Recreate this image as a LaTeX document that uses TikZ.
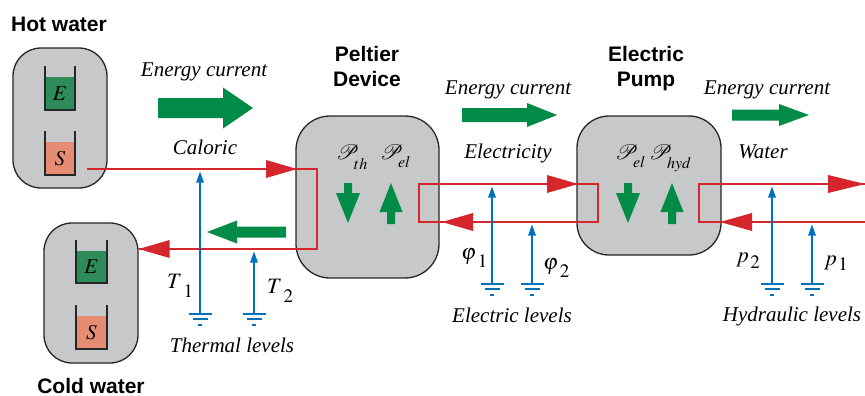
\documentclass[tikz,border=0pt]{standalone}
\usepackage{mathptmx}
\usepackage{fontspec}
\setmainfont{Liberation Serif}
\newfontfamily\hv{Liberation Sans}
\usetikzlibrary{arrows.meta}
\definecolor{gbox}{RGB}{199,200,202}
\definecolor{garr}{RGB}{0,140,70}
\definecolor{tankE}{RGB}{45,140,90}
\definecolor{tankS}{RGB}{230,140,115}
\definecolor{rline}{RGB}{214,38,45}
\definecolor{bline}{RGB}{0,114,188}
\newcommand\hblockarrow[6]{\fill[garr] (#1,{#4-#5}) -- (#2,{#4-#5}) -- (#2,{#4-#6}) -- (#3,#4) -- (#2,{#4+#6}) -- (#2,{#4+#5}) -- (#1,{#4+#5}) -- cycle;}
\newcommand\vblockarrow[6]{\fill[garr] ({#4-#5},#1) -- ({#4-#5},#2) -- ({#4-#6},#2) -- (#4,#3) -- ({#4+#6},#2) -- ({#4+#5},#2) -- ({#4+#5},#1) -- cycle;}
\newcommand\msub[3]{$#1$\kern1.5pt\raisebox{-#3pt}{\fontsize{19}{19}\selectfont$#2$}}
\newcommand\psub[2]{{\fontsize{21}{24}\selectfont$\mathcal{P}$}\kern-5pt\raisebox{-#2pt}{\fontsize{16}{16}\selectfont$#1$}}
\begin{document}
\begin{tikzpicture}[x=1pt,y=-1pt,
  box/.style={draw=black!85, line width=1.3pt, fill=gbox, rounded corners=28pt, inner sep=0},
  title/.style={font=\hv\bfseries\fontsize{21}{24}\selectfont, inner sep=0, anchor=base},
  lab/.style={font=\itshape\fontsize{21}{24}\selectfont, inner sep=0, anchor=base},
  mlab/.style={font=\fontsize{22}{26}\selectfont, inner sep=0, anchor=base west},
  tanklab/.style={font=\fontsize{21}{24}\selectfont, inner sep=0},
  redline/.style={draw=rline, line width=2.7pt, line join=miter},
  blueline/.style={draw=bline, line width=1.4pt},
  bluearrow/.style={blueline, -{Triangle[length=11pt,width=7.5pt]}},
  tank/.style={draw=black!85, line width=1.3pt},
  gnd/.pic={\draw[blueline] (-11.5,0) -- (11.5,0) (-7.5,5) -- (7.5,5) (-1.8,11) -- (1.8,11);}
]
\useasboundingbox (0,0) rectangle (865,396);

% boxes
\node[box, minimum width=94pt, minimum height=140pt] (hot) at (60,118) {};
\node[box, minimum width=94pt, minimum height=140pt] (cold) at (91,293) {};
\node[box, minimum width=143pt, minimum height=162pt, rounded corners=34pt] (pelt) at (367.5,197) {};
\node[box, minimum width=144pt, minimum height=139pt, rounded corners=32pt] (pump) at (649,185.5) {};

% tanks
\fill[tankE] (45,77) rectangle (75,110);
\draw[tank] (45,66) -- (45,110) -- (75,110) -- (75,66);
\node[tanklab] (hotE) at (60,93.5) {$E$};
\fill[tankS] (45,142) rectangle (75,175);
\draw[tank] (45,131) -- (45,175) -- (75,175) -- (75,131);
\node[tanklab] (hotS) at (60,158.5) {$S$};
\fill[tankE] (76,251) rectangle (107,283);
\draw[tank] (76,240) -- (76,283) -- (107,283) -- (107,240);
\node[tanklab] (coldE) at (91.5,267) {$E$};
\fill[tankS] (76,316) rectangle (107,349);
\draw[tank] (76,305) -- (76,349) -- (107,349) -- (107,305);
\node[tanklab] (coldS) at (91.5,332.5) {$S$};

% red loops
\coordinate (c0) at (87,169);
\coordinate (c1) at (317,169);
\coordinate (c2) at (317,249);
\draw[redline] (c0) -- (c1) -- (c2) -- (cold.east |- c2);
\fill[rline] (297,169) -- ++(-31,-9) -- ++(0,18) -- cycle;
\fill[rline] (cold.east |- c2) -- ++(31,-9) -- ++(0,18) -- cycle;

\coordinate (e0) at (419,184);
\coordinate (e1) at (598,222);
\draw[redline] (e0) rectangle (e1);
\fill[rline] (578,184) -- ++(-31,-9) -- ++(0,18) -- cycle;
\fill[rline] (442,222) -- ++(31,-9) -- ++(0,18) -- cycle;

\coordinate (h0) at (865,184);
\coordinate (h1) at (699,184);
\coordinate (h2) at (699,222);
\coordinate (h3) at (865,222);
\draw[redline] (h0) -- (h1) -- (h2) -- (h3);
\fill[rline] (865,184) -- ++(-37,-9) -- ++(0,18) -- cycle;
\fill[rline] (720,222) -- ++(32,-9) -- ++(0,18) -- cycle;

% green arrows
\hblockarrow{158}{223}{253}{108}{10}{20.5}
\hblockarrow{462}{527}{557}{115}{7}{12}
\hblockarrow{732}{779}{809}{115}{5.5}{11}
\hblockarrow{286}{237}{207}{232}{5.5}{11.5}
\vblockarrow{183}{193}{223}{348}{4}{12}
\vblockarrow{224}{212}{183}{391}{4}{11.5}
\vblockarrow{183}{193}{223}{628}{4}{12}
\vblockarrow{224}{212}{183}{672}{4}{11.5}

% blue levels
\coordinate (gT1) at (200,314);
\coordinate (gT2) at (254,314);
\coordinate (gf1) at (492,284);
\coordinate (gf2) at (532,284);
\coordinate (gp2) at (772,284);
\coordinate (gp1) at (812,284);
\draw[bluearrow] (gT1) -- (200,171.5);
\draw[bluearrow] (gT2) -- (254,251.5);
\draw[bluearrow] (gf1) -- (492,186.5);
\draw[bluearrow] (gf2) -- (532,224.5);
\draw[bluearrow] (gp2) -- (772,186.5);
\draw[bluearrow] (gp1) -- (812,224.5);
\pic at (gT1) {gnd};
\pic at (gT2) {gnd};
\pic at (gf1) {gnd};
\pic at (gf2) {gnd};
\pic at (gp2) {gnd};
\pic at (gp1) {gnd};

% titles
\node[title] (hotT) at (59,32) {Hot water};
\node[title] (coldT) at (91,393) {Cold water};
\node[title] (peltT1) at (367,62) {Peltier};
\node[title] (peltT2) at (367,87) {Device};
\node[title] (pumpT1) at (646,62) {Electric};
\node[title] (pumpT2) at (646,86) {Pump};

% labels
\node[lab] (ec1) at (204,77) {Energy current};
\node[lab] (cal) at (205,154) {Caloric};
\node[lab] (ec2) at (508,95) {Energy current};
\node[lab] (elc) at (508,158) {Electricity};
\node[lab] (ec3) at (767,95) {Energy current};
\node[lab] (wat) at (763,158) {Water};
\node[lab] (thl) at (232,352) {Thermal levels};
\node[lab] (ell) at (512,322) {Electric levels};
\node[lab] (hyl) at (792,321) {Hydraulic levels};

% math labels
\node[mlab] (T1) at (167,288) {\msub{T}{1}{9}};
\node[mlab] (T2) at (267,293) {\msub{T}{2}{9}};
\node[mlab] (f1) at (461,259) {\msub{\varphi}{1}{8}};
\node[mlab] (f2) at (543,269) {\msub{\varphi}{2}{8}};
\node[mlab] (p2) at (736,262) {\msub{p}{2}{6}};
\node[mlab] (p1) at (824,265) {\msub{p}{1}{5}};
\node[mlab] (Pth) at (336,159) {\psub{th}{10}};
\node[mlab] (Pel) at (380,159) {\psub{el}{8}};
\node[mlab] (Pel2) at (615,159) {\psub{el}{8}};
\node[mlab] (Phyd) at (649,159) {\psub{hyd}{9}};
\end{tikzpicture}
\end{document}
